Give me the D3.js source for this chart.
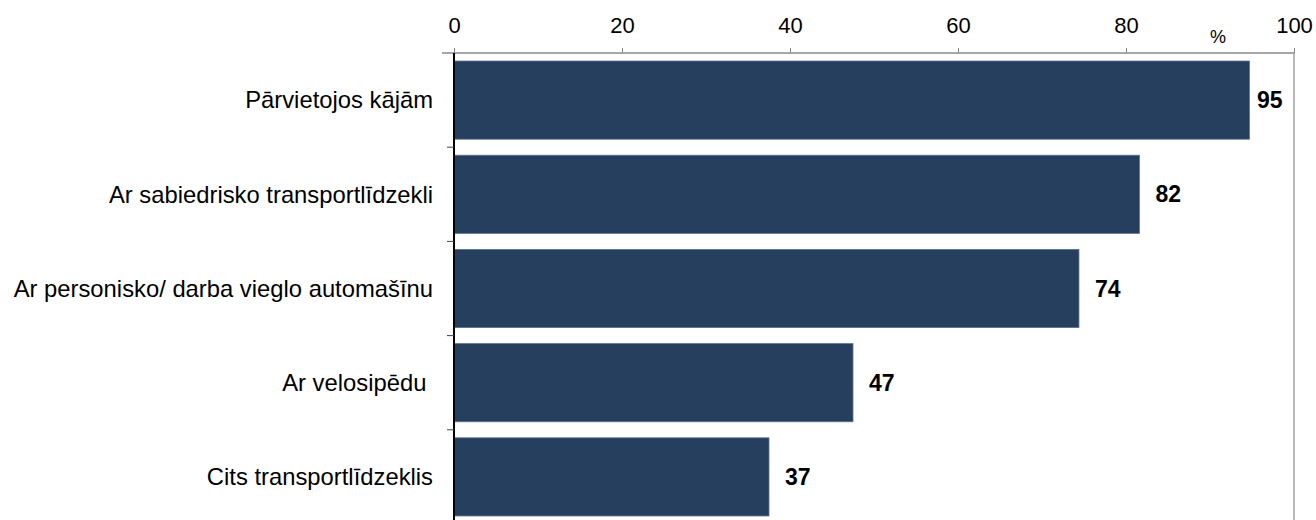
<!DOCTYPE html>
<html><head><meta charset="utf-8">
<script src="https://cdn.jsdelivr.net/npm/d3@7"></script>
<style>body{margin:0;background:#fff}svg{display:block}text{font-family:Arial,"Liberation Sans",sans-serif}text.cat{white-space:pre}</style>
</head><body><svg id="c" width="1316" height="520"></svg>
<script>
const categories = ["Pārvietojos kājām","Ar sabiedrisko transportlīdzekli","Ar personisko/ darba vieglo automašīnu","Ar velosipēdu ","Cits transportlīdzeklis"];
const values = [94.7, 81.6, 74.4, 47.5, 37.5];
const valueLabels = ["95","82","74","47","37"];
const tickValues = [0,20,40,60,80,100];

(function(){
const svg = d3.select("#c");
const pLeft = 454, pRight = 1294, pTop = 53, pBottom = 524;
const x = d3.scaleLinear().domain([0,100]).range([pLeft,pRight]);
const y = d3.scaleBand().domain(categories).range([pTop,pBottom]).paddingInner(16/94).paddingOuter(8/94);

svg.selectAll("rect.bar").data(values).join("rect")
  .attr("class","bar")
  .attr("x",x(0)).attr("y",(d,i)=>y(categories[i]))
  .attr("width",d=>x(d)-x(0)).attr("height",y.bandwidth())
  .attr("fill","#273f5f").attr("stroke","#5b7291").attr("stroke-width",0.8);

// right border
svg.append("line").attr("x1",pRight).attr("x2",pRight).attr("y1",pTop).attr("y2",520).attr("stroke","#a0a0a0").attr("stroke-width",1.5);

// top axis
const ax = svg.append("g").attr("transform",`translate(0,${pTop})`)
  .call(d3.axisTop(x).tickValues(tickValues).tickSize(5).tickPadding(15).tickFormat(d3.format("d")));
ax.select(".domain").attr("stroke","#8a8a8a").attr("stroke-width",1.5).attr("d",`M${pLeft-12},0H${pRight}`);
ax.selectAll(".tick line").attr("stroke","#8a8a8a");
ax.selectAll(".tick text").attr("font-size",22).attr("fill","#000").attr("font-family","Arial, 'Liberation Sans', sans-serif");

// left axis
const step = y.step();
const ay = svg.append("g").attr("transform",`translate(${pLeft},0)`);
ay.append("line").attr("x1",0).attr("x2",0).attr("y1",pTop).attr("y2",520).attr("stroke","#000").attr("stroke-width",2);
const bounds = d3.range(1,categories.length).map(i=>y(categories[i]) - (step - y.bandwidth())/2);
ay.selectAll("line.tk").data(bounds).join("line").attr("class","tk")
  .attr("x1",-7).attr("x2",0).attr("y1",d=>d).attr("y2",d=>d).attr("stroke","#444").attr("stroke-width",1);
ay.selectAll("text.cat").data(categories).join("text").attr("class","cat")
  .attr("x",-21).attr("y",d=>y(d)+y.bandwidth()/2).attr("dy","0.35em")
  .attr("text-anchor","end").attr("font-size",23.8).attr("fill","#000").text(d=>d);

// value labels
svg.selectAll("text.val").data(values).join("text").attr("class","val")
  .attr("x",d=>Math.min(x(d)+16, pRight-37)).attr("y",(d,i)=>y(categories[i])+y.bandwidth()/2).attr("dy","0.35em")
  .attr("font-size",23).attr("font-weight","bold").attr("fill","#000").text((d,i)=>valueLabels[i]);

svg.append("text").attr("x",1218).attr("y",43).attr("text-anchor","middle").attr("font-size",18).attr("fill","#000").text("%");
})();
</script></body></html>
